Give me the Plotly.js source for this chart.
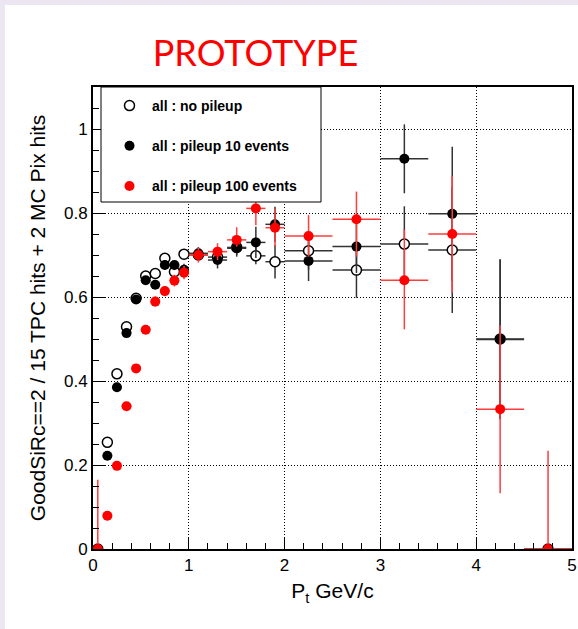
<!DOCTYPE html>
<html>
<head>
<meta charset="utf-8">
<script src="https://cdn.plot.ly/plotly-3.0.1.min.js"></script>
<style>
  html, body { margin: 0; padding: 0; background: #ebe6f1; }
  #chart { position: absolute; left: 5px; top: 5px; width: 573px; height: 624px; background: #fff; }
</style>
</head>
<body>
<div id="chart"></div>
<script>
// ---- data ----
const pt = [0.05, 0.15, 0.25, 0.35, 0.45, 0.55, 0.65, 0.75, 0.85, 0.95,
            1.1, 1.3, 1.5, 1.7, 1.9, 2.25, 2.75, 3.25, 3.75, 4.25, 4.75];
const ptHalfWidth = [0.05, 0.05, 0.05, 0.05, 0.05, 0.05, 0.05, 0.05, 0.05, 0.05,
                     0.1, 0.1, 0.1, 0.1, 0.1, 0.25, 0.25, 0.25, 0.25, 0.25, 0.25];

const noPileup      = [0, 0.254, 0.417, 0.529, 0.597, 0.650, 0.656, 0.692, 0.660, 0.702,
                       0.700, 0.695, 0.718, 0.698, 0.684, 0.710, 0.664, 0.726, 0.712, 0.500, 0];
const noPileupErr   = [0, 0.01, 0.01, 0.01, 0.01, 0.01, 0.01, 0.01, 0.012, 0.012,
                       0.014, 0.016, 0.018, 0.02, 0.04, 0.045, 0.066, 0.09, 0.15, 0.19, 0];

const pileup10      = [0, 0.222, 0.385, 0.514, 0.594, 0.640, 0.629, 0.676, 0.676, 0.665,
                       0.704, 0.688, 0.716, 0.730, 0.773, 0.686, 0.720, 0.929, 0.798, 0.499, 0];
const pileup10Err   = [0, 0.01, 0.01, 0.01, 0.01, 0.01, 0.01, 0.012, 0.012, 0.014,
                       0.015, 0.02, 0.02, 0.037, 0.042, 0.048, 0.063, 0.082, 0.16, 0.19, 0];

const pileup100         = [0, 0.079, 0.198, 0.340, 0.430, 0.522, 0.589, 0.614, 0.639, 0.658,
                           0.700, 0.708, 0.736, 0.811, 0.765, 0.745, 0.785, 0.640, 0.750, 0.333, 0];
const pileup100ErrPlus  = [0.165, 0.01, 0.01, 0.01, 0.01, 0.01, 0.012, 0.012, 0.014, 0.016,
                           0.018, 0.02, 0.03, 0.02, 0.045, 0.05, 0.066, 0.12, 0.138, 0.2, 0.234];
const pileup100ErrMinus = [0, 0.01, 0.01, 0.01, 0.01, 0.01, 0.012, 0.012, 0.014, 0.016,
                           0.018, 0.02, 0.016, 0.04, 0.045, 0.049, 0.089, 0.117, 0.14, 0.2, 0];

const seriesNames = ['all : no pileup', 'all : pileup 10 events', 'all : pileup 100 events'];

// ---- styling ----
const AX_FONT = {family: 'Liberation Sans, Arial, sans-serif', size: 17, color: '#000'};

function ex(arr) { return {type: 'data', array: arr, visible: true, thickness: 1.5, width: 0}; }

const traces = [
  {
    x: pt, y: noPileup, name: seriesNames[0], legendgroup: 'g0',
    type: 'scatter', mode: 'markers',
    marker: {symbol: 'circle', size: 10, color: '#ffffff', line: {color: '#000', width: 1.5}},
    error_x: Object.assign(ex(ptHalfWidth), {color: '#333'}),
    error_y: Object.assign(ex(noPileupErr), {color: '#333'})
  },
  {
    x: pt, y: pileup10, name: seriesNames[1], legendgroup: 'g1',
    type: 'scatter', mode: 'markers',
    marker: {symbol: 'circle', size: 10, color: '#000'},
    error_x: Object.assign(ex(ptHalfWidth), {color: '#333'}),
    error_y: Object.assign(ex(pileup10Err), {color: '#333'})
  },
  {
    x: pt, y: pileup100, name: seriesNames[2], legendgroup: 'g2',
    type: 'scatter', mode: 'markers',
    marker: {symbol: 'circle', size: 10, color: '#ff0000'},
    error_x: Object.assign(ex(ptHalfWidth), {color: '#ff3d3d'}),
    error_y: {type: 'data', symmetric: false, array: pileup100ErrPlus, arrayminus: pileup100ErrMinus,
              visible: true, thickness: 1.5, width: 0, color: '#ff3d3d'}
  }
];

const layout = {
  width: 573, height: 624,
  margin: {l: 88, r: 6, t: 82, b: 80},
  paper_bgcolor: '#ffffff', plot_bgcolor: '#ffffff',
  showlegend: true,
  title: {
    text: 'PROTOTYPE',
    font: {family: 'Lato, Open Sans, sans-serif', size: 36, color: '#ff0000'},
    x: 250.5 / 573, xref: 'container', xanchor: 'center',
    y: 1 - 48 / 624, yref: 'container', yanchor: 'middle'
  },
  xaxis: {
    range: [0, 5], dtick: 1, tick0: 0,
    showline: true, linecolor: '#000', linewidth: 2, mirror: true,
    ticks: 'inside', ticklen: 12, tickwidth: 1, tickcolor: '#000',
    minor: {dtick: 0.2, ticks: 'inside', ticklen: 6, tickcolor: '#000', showgrid: false},
    showgrid: true, gridcolor: '#000', gridwidth: 1, griddash: '1px,2px',
    zeroline: false,
    tickfont: AX_FONT,
    title: {text: 'P<sub>t</sub> GeV/c', font: {family: AX_FONT.family, size: 21, color: '#000'}, standoff: 9}
  },
  yaxis: {
    range: [0, 1.1], dtick: 0.2, tick0: 0,
    showline: true, linecolor: '#000', linewidth: 2, mirror: true,
    ticks: 'inside', ticklen: 12, tickwidth: 1, tickcolor: '#000',
    minor: {dtick: 0.05, ticks: 'inside', ticklen: 6, tickcolor: '#000', showgrid: false},
    showgrid: true, gridcolor: '#000', gridwidth: 1, griddash: '1px,2px',
    zeroline: false,
    tickfont: AX_FONT,
    title: {text: 'GoodSiRc==2 / 15 TPC hits + 2 MC Pix hits',
            font: {family: AX_FONT.family, size: 21, color: '#000'}, standoff: 13}
  },
  legend: {
    x: 14 / 479, xanchor: 'left', y: 1 - 3 / 462, yanchor: 'top',
    bgcolor: 'rgba(0,0,0,0)', borderwidth: 0,
    font: {family: 'Liberation Sans, Arial, sans-serif', size: 14, color: '#000', weight: 'bold'},
    traceorder: 'grouped', tracegroupgap: 19, itemwidth: 35
  },
  shapes: [
    {type: 'rect', xref: 'paper', yref: 'paper', layer: 'above',
     x0: 8 / 479, x1: 228 / 479, y0: 1 - 115 / 462, y1: 1,
     fillcolor: '#ffffff', line: {color: '#000', width: 1}}
  ]
};

Plotly.newPlot('chart', traces, layout, {displayModeBar: false, staticPlot: true});
</script>
</body>
</html>
